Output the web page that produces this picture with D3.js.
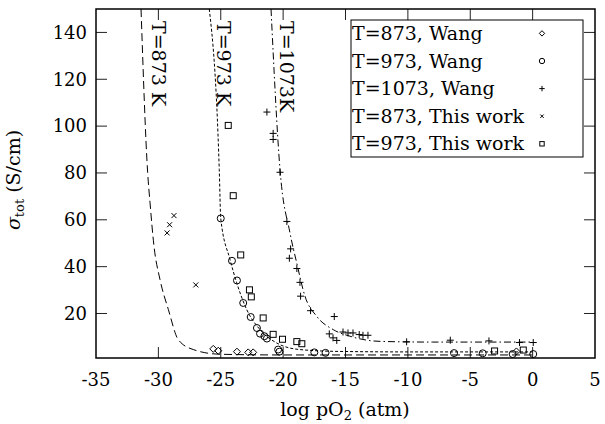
<!DOCTYPE html>
<html>
<head>
<meta charset="utf-8">
<script src="https://cdn.jsdelivr.net/npm/d3@7"></script>
<style>
  body { margin: 0; background: #fff; }
  svg text { font-family: "DejaVu Serif", serif; fill: #000; }
</style>
</head>
<body>
<svg width="605" height="424"></svg>
<script>
// **** data ****
var xTicks = [-35, -30, -25, -20, -15, -10, -5, 0, 5];
var yTicks = [20, 40, 60, 80, 100, 120, 140];

var wang873 = [[-25.6,4.9],[-25.2,4.1],[-23.7,3.7],[-22.8,3.4],[-22.4,3.4],[-1.3,3.8]];
var wang973 = [[-25.0,60.6],[-24.1,42.5],[-23.7,34.1],[-23.2,24.5],[-22.6,18.5],[-22.1,13.8],
  [-21.85,11.4],[-21.5,10.3],[-21.3,9.3],[-20.4,4.6],[-20.3,3.7],[-17.5,3.4],[-16.6,3.2],
  [-6.3,3.1],[-4.0,3.0],[-1.6,2.7],[0.05,2.7]];
var wang1073 = [[-21.3,106.0],[-20.8,96.9],[-20.8,94.3],[-20.25,80.3],[-19.7,59.3],[-19.4,47.6],
  [-19.5,43.6],[-18.9,39.2],[-18.65,33.3],[-18.6,27.4],[-17.8,21.2],[-15.9,18.7],[-16.3,11.3],
  [-16.0,9.6],[-15.7,8.5],[-15.2,12.1],[-14.8,11.7],[-14.4,11.7],[-13.9,11.0],[-13.6,10.7],
  [-13.2,10.7],[-10.1,7.9],[-6.6,8.6],[-3.5,8.3],[-1.05,7.6],[0.05,7.6]];
var ours873 = [[-29.3,54.4],[-29.1,57.9],[-28.75,61.8],[-27.0,32.2]];
var ours973 = [[-24.4,100.3],[-24.0,70.3],[-23.4,45.0],[-22.7,30.1],[-22.55,27.1],[-21.6,18.1],
  [-20.8,11.1],[-20.05,9.0],[-18.9,8.0],[-18.5,7.1],[-3.05,4.0],[-0.75,4.4]];

var fit873 = [[-31.39,150],[-30.86,80.2],[-30.67,67.3],[-30.35,48.7],[-29.87,34.5],[-29.2,21.7],
  [-28.4,8.8],[-27.2,4.6],[-25.06,2.6],[-20,2.3],[-10,2.3],[0,2.3]];
var fit973 = [[-25.92,150],[-25.12,81.5],[-25.0,60.6],[-24.26,43.1],[-23.72,33.1],[-22.92,21.7],
  [-21.85,13.1],[-20.51,7.4],[-18.65,4.6],[-15.44,3.8],[-10,3.6],[0,3.6]];
var fit1073 = [[-20.97,150],[-20.25,81.5],[-19.45,54.4],[-18.91,41.6],[-18.25,27.4],[-17.31,18.8],
  [-15.98,13.1],[-14.64,10.3],[-12.23,8.1],[-8,7.8],[0,7.8]];

var legendLabels = ['T=873, Wang', 'T=973, Wang', 'T=1073, Wang', 'T=873, This work', 'T=973, This work'];

// **** scales ****
var xScale = d3.scaleLinear().domain([-35, 5]).range([96, 595]);
var yScale = d3.scaleLinear().domain([1, 150]).range([358, 9]);

var svg = d3.select('svg');

svg.append('clipPath').attr('id', 'plotclip')
  .append('rect').attr('x', 96).attr('y', 9).attr('width', 499).attr('height', 349);

// ticks, mirrored on all four sides, pointing inward
var tickLen = 11;
var ticks = svg.append('g').attr('stroke', '#222').attr('stroke-width', 1);
xTicks.slice(1, -1).forEach(function(t) {
  var x = xScale(t);
  ticks.append('line').attr('x1', x).attr('x2', x).attr('y1', 358).attr('y2', 358 - tickLen);
  ticks.append('line').attr('x1', x).attr('x2', x).attr('y1', 9).attr('y2', 9 + tickLen);
});
yTicks.forEach(function(t) {
  var y = yScale(t);
  ticks.append('line').attr('x1', 96).attr('x2', 96 + tickLen).attr('y1', y).attr('y2', y);
  ticks.append('line').attr('x1', 595).attr('x2', 595 - tickLen).attr('y1', y).attr('y2', y);
});

// tick labels
svg.append('g').selectAll('text').data(xTicks).enter().append('text')
  .attr('x', function(d) { return xScale(d); })
  .attr('y', 386)
  .attr('text-anchor', 'middle')
  .attr('font-size', 18)
  .text(function(d) { return d < 0 ? '-' + Math.abs(d) : d; });

svg.append('g').selectAll('text').data(yTicks).enter().append('text')
  .attr('x', 87)
  .attr('y', function(d) { return yScale(d); })
  .attr('dy', '0.35em')
  .attr('text-anchor', 'end')
  .attr('font-size', 18)
  .text(function(d) { return d; });

// axis titles
var xt = svg.append('text').attr('x', 345).attr('y', 416)
  .attr('text-anchor', 'middle').attr('font-size', 19);
xt.append('tspan').text('log pO');
xt.append('tspan').attr('font-size', 13).attr('dy', 4).text('2');
xt.append('tspan').attr('dy', -4).text(' (atm)');

var yt = svg.append('text').attr('transform', 'translate(13,180) rotate(-90)')
  .attr('dy', '0.35em').attr('text-anchor', 'middle').attr('font-size', 19);
yt.append('tspan').attr('font-style', 'italic').text('σ');
yt.append('tspan').attr('font-size', 13).attr('dy', 4).text('tot');
yt.append('tspan').attr('dy', -4).text(' (S/cm)');

// fitted curves
var line = d3.line()
  .x(function(d) { return xScale(d[0]); })
  .y(function(d) { return yScale(d[1]); })
  .curve(d3.curveMonotoneX);

var curves = svg.append('g').attr('clip-path', 'url(#plotclip)')
  .attr('fill', 'none').attr('stroke', '#000').attr('stroke-width', 1);
curves.append('path').attr('d', line(fit873)).attr('stroke-dasharray', '8,4');
curves.append('path').attr('d', line(fit973)).attr('stroke-dasharray', '3,2');
curves.append('path').attr('d', line(fit1073)).attr('stroke-dasharray', '7,3,1.5,3');

// curve labels, reading downward
[['T=873 K', -30], ['T=973 K', -24.8], ['T=1073K', -19.7]].forEach(function(l) {
  svg.append('text')
    .attr('transform', 'translate(' + xScale(l[1]) + ',21) rotate(90)')
    .attr('dy', '0.35em')
    .attr('font-size', 19)
    .text(l[0]);
});

// markers
function drawMarker(g, type, x, y, s) {
  if (type === 'diamond') {
    g.append('path').attr('d', 'M' + x + ',' + (y - s) + 'L' + (x + s) + ',' + y + 'L' + x + ',' + (y + s) + 'L' + (x - s) + ',' + y + 'Z');
  } else if (type === 'circle') {
    g.append('circle').attr('cx', x).attr('cy', y).attr('r', s);
  } else if (type === 'plus') {
    g.append('path').attr('d', 'M' + (x - s) + ',' + y + 'H' + (x + s) + 'M' + x + ',' + (y - s) + 'V' + (y + s));
  } else if (type === 'cross') {
    g.append('path').attr('d', 'M' + (x - s) + ',' + (y - s) + 'L' + (x + s) + ',' + (y + s) + 'M' + (x - s) + ',' + (y + s) + 'L' + (x + s) + ',' + (y - s));
  } else {
    g.append('rect').attr('x', x - s).attr('y', y - s).attr('width', 2 * s).attr('height', 2 * s);
  }
}

var series = [
  { data: wang873, type: 'diamond', size: 3.5 },
  { data: wang973, type: 'circle', size: 3.5 },
  { data: wang1073, type: 'plus', size: 3.5 },
  { data: ours873, type: 'cross', size: 2.5 },
  { data: ours973, type: 'square', size: 3 }
];

var marks = svg.append('g').attr('fill', 'none').attr('stroke', '#000').attr('stroke-width', 1);
series.forEach(function(s) {
  s.data.forEach(function(d) {
    drawMarker(marks, s.type, xScale(d[0]), yScale(d[1]), s.size);
  });
});

// frame
svg.append('rect').attr('x', 96).attr('y', 9).attr('width', 499).attr('height', 349)
  .attr('fill', 'none').attr('stroke', '#000').attr('stroke-width', 1.5);

// legend
var legend = svg.append('g');
legend.append('rect').attr('x', 351).attr('y', 20).attr('width', 232).attr('height', 137)
  .attr('fill', '#fff').attr('stroke', '#000').attr('stroke-width', 1);
var lg = legend.append('g').attr('fill', 'none').attr('stroke', '#000').attr('stroke-width', 1);
legendLabels.forEach(function(lab, i) {
  var y = 33.4 + i * 27.6;
  legend.append('text').attr('x', 352).attr('y', y).attr('dy', '0.35em')
    .attr('font-size', 19).text(lab);
  drawMarker(lg, series[i].type, 542, y, series[i].size - 0.8);
});
</script>
</body>
</html>
